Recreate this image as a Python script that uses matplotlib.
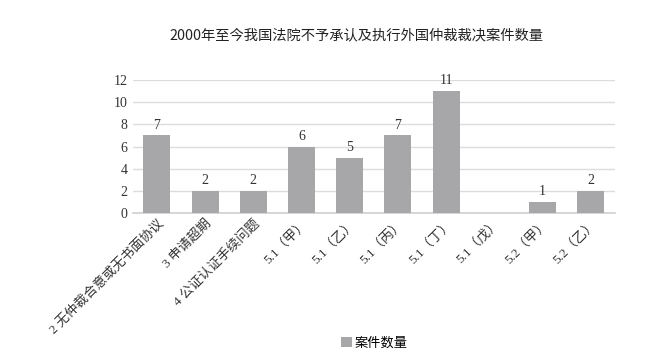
import matplotlib
matplotlib.use("Agg")
import matplotlib.pyplot as plt
from matplotlib.patches import Patch

plt.rcParams['font.family'] = ['Liberation Serif', 'Noto Sans CJK SC']

# Data
categories = ['2 无仲裁合意或无书面协议', '3 申请超期', '4 公证认证手续问题',
              '5.1（甲）', '5.1（乙）', '5.1（丙）', '5.1（丁）', '5.1（戊）',
              '5.2（甲）', '5.2（乙）']
counts = [7, 2, 2, 6, 5, 7, 11, 0, 1, 2]
value_labels = ['7', '2', '2', '6', '5', '7', '11', '', '1', '2']
yticks = [0, 2, 4, 6, 8, 10, 12]

bar_color = '#a7a7a9'

fig = plt.figure(figsize=(6.45, 3.61), dpi=100)
ax = fig.add_axes([0.206, 0.410, 0.747, 0.368])

x = range(len(categories))
bars = ax.bar(x, counts, width=0.56, color=bar_color, zorder=3)

for b, lab in zip(bars, value_labels):
    if lab:
        ax.text(b.get_x() + b.get_width() / 2, b.get_height() + 0.35, lab,
                ha='center', va='bottom', fontsize=10, color='#333333')

ax.set_xlim(-0.5, len(categories) - 0.5)
ax.set_ylim(0, 12)
ax.set_yticks(yticks)
ax.set_yticklabels([str(v) for v in yticks], fontsize=10, color='#333333')
ax.set_xticks(list(x))
ax.set_xticklabels(categories, rotation=45, ha='right', rotation_mode='anchor',
                   fontsize=9.5, color='#333333')
ax.tick_params(axis='both', length=0, pad=4)
ax.tick_params(axis='x', pad=3)

ax.grid(axis='y', color='#dcdcdc', linewidth=1, zorder=0)
for s in ['top', 'right', 'left']:
    ax.spines[s].set_visible(False)
ax.spines['bottom'].set_color('#d0d0d0')
ax.spines['bottom'].set_linewidth(1.2)

fig.text(0.553, 0.903, '2000年至今我国法院不予承认及执行外国仲裁裁决案件数量',
         ha='center', va='center', fontsize=10.3, color='#222222',
         family=['Noto Sans CJK SC', 'DejaVu Sans'])

handle = Patch(facecolor=bar_color, edgecolor='none')
fig.legend([handle], ['案件数量'], loc='center', bbox_to_anchor=(0.58, 0.05),
           frameon=False, handlelength=0.8, handleheight=0.8, handletextpad=0.2,
           prop={'family': ['Noto Sans CJK SC'], 'size': 9.5})

fig.savefig('out.png', dpi=100, facecolor='white')
